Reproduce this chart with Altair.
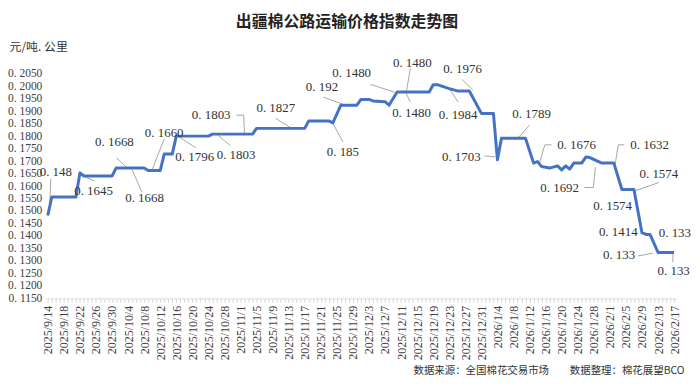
import altair as alt
import pandas as pd

# ---------------- data ----------------
dates = ["2025-09-14", "2025-09-15", "2025-09-21", "2025-09-22", "2025-09-23", "2025-09-30",
         "2025-10-01", "2025-10-08", "2025-10-09", "2025-10-12", "2025-10-13", "2025-10-15",
         "2025-10-16", "2025-10-24", "2025-10-25", "2025-11-04", "2025-11-05", "2025-11-17",
         "2025-11-18", "2025-11-23", "2025-11-24", "2025-11-26", "2025-11-30", "2025-12-01",
         "2025-12-03", "2025-12-04", "2025-12-07", "2025-12-08", "2025-12-10", "2025-12-18",
         "2025-12-19", "2025-12-20", "2025-12-23", "2025-12-25", "2025-12-28", "2025-12-31",
         "2026-01-03", "2026-01-04", "2026-01-05", "2026-01-11", "2026-01-13", "2026-01-14",
         "2026-01-15", "2026-01-17", "2026-01-19", "2026-01-20", "2026-01-21", "2026-01-22",
         "2026-01-23", "2026-01-25", "2026-01-26", "2026-01-27", "2026-01-30", "2026-02-02",
         "2026-02-04", "2026-02-07", "2026-02-09", "2026-02-10", "2026-02-11", "2026-02-13",
         "2026-02-17"]
values = [0.1482, 0.1556, 0.1556, 0.1652, 0.1640, 0.1640,
          0.1672, 0.1672, 0.1662, 0.1662, 0.1728, 0.1728,
          0.1800, 0.1800, 0.1808, 0.1808, 0.1831, 0.1831,
          0.1861, 0.1861, 0.1853, 0.1924, 0.1924, 0.1947,
          0.1947, 0.1941, 0.1938, 0.1924, 0.1977, 0.1977,
          0.2006, 0.2006, 0.1990, 0.1981, 0.1981, 0.1891,
          0.1891, 0.1705, 0.1791, 0.1791, 0.1692, 0.1698,
          0.1678, 0.1672, 0.1681, 0.1665, 0.1681, 0.1668,
          0.1692, 0.1692, 0.1716, 0.1714, 0.1692, 0.1692,
          0.1586, 0.1586, 0.1413, 0.1406, 0.1406, 0.1334,
          0.1334]

# y-axis tick values
y_ticks = [0.1150, 0.1200, 0.1250, 0.1300, 0.1350, 0.1400, 0.1450, 0.1500, 0.1550, 0.1600,
           0.1650, 0.1700, 0.1750, 0.1800, 0.1850, 0.1900, 0.1950, 0.2000, 0.2050]

# data labels (text, day offset from 2025/9/14, value position)
ann_text = ["0. 148", "0. 1645", "0. 1668", "0. 1668", "0. 1660", "0. 1796", "0. 1803",
            "0. 1803", "0. 1827", "0. 192", "0. 185", "0. 1480", "0. 1480", "0. 1480",
            "0. 1976", "0. 1984", "0. 1703", "0. 1789", "0. 1676", "0. 1692", "0. 1632",
            "0. 1574", "0. 1574", "0. 1414", "0. 133", "0. 133", "0. 133"]
ann_day = [2.0, 11.4, 16.6, 24.1, 29.0, 36.6, 46.9,
           40.7, 56.8, 68.3, 73.5, 75.7, 90.8, 90.6,
           103.3, 102.2, 103.0, 120.5, 131.7, 127.5, 149.9,
           152.2, 140.7, 142.1, 156.2, 142.3, 155.9]
ann_value = [0.1657, 0.1582, 0.1777, 0.1554, 0.1812, 0.1717, 0.1725,
             0.1884, 0.1912, 0.1995, 0.1737, 0.2051, 0.2091, 0.1892,
             0.2067, 0.1884, 0.1717, 0.1888, 0.1765, 0.1594, 0.1765,
             0.1649, 0.1518, 0.1414, 0.1410, 0.1323, 0.1259]

# leader lines (segments in day offset / value space)
seg_d1 = [0.74, 8.7, 17.1, 21.0, 29.0, 32.7, 42.3, 47.0, 48.8, 56.7, 68.6, 71.0, 80.4,
          90.3, 88.9, 103.2, 100.0, 108.7, 120.0, 125.5, 123.8, 133.7, 135.9, 143.6, 142.1,
          152.2, 147.0, 155.7]
seg_v1 = [0.1629, 0.1641, 0.1713, 0.1665, 0.1789, 0.1797, 0.1805, 0.1884, 0.1884, 0.1872,
          0.1956, 0.1852, 0.2007, 0.2071, 0.1984, 0.2027, 0.1992, 0.1721, 0.1844, 0.1765,
          0.1765, 0.1594, 0.1594, 0.1765, 0.1765, 0.1614, 0.1320, 0.1327]
seg_d2 = [0.5, 11.6, 20.0, 23.5, 26.0, 36.9, 45.5, 48.8, 49.0, 60.6, 73.5, 73.5, 86.4,
          89.4, 90.3, 105.9, 102.2, 111.4, 117.3, 123.8, 122.5, 135.9, 136.4, 142.1, 141.3,
          145.8, 150.7, 155.7]
seg_v2 = [0.1526, 0.1621, 0.1669, 0.1574, 0.1665, 0.1753, 0.1761, 0.1884, 0.1808, 0.1832,
          0.1928, 0.1777, 0.1976, 0.1984, 0.1936, 0.1984, 0.1936, 0.1717, 0.1796, 0.1765,
          0.1693, 0.1594, 0.1677, 0.1765, 0.1685, 0.1578, 0.1331, 0.1295]

title_text = "出疆棉公路运输价格指数走势图"
unit_text = "元/吨. 公里"
footer_text = "数据来源：全国棉花交易市场　　数据整理：棉花展望BCO"

# ---------------- helpers ----------------
DAY = 86400000
START = int(pd.Timestamp("2025-09-14", tz="UTC").value // 10**6)


def ms(day):
    return START + day * DAY


line_df = pd.DataFrame({
    "t": [int(pd.Timestamp(d, tz="UTC").value // 10**6) for d in dates],
    "v": values,
})
ann_df = pd.DataFrame({"t": [ms(d) for d in ann_day], "v": ann_value, "label": ann_text})
seg_df = pd.DataFrame({"t1": [ms(d) for d in seg_d1], "v1": seg_v1,
                       "t2": [ms(d) for d in seg_d2], "v2": seg_v2})

n_days = 156
tick_vals = [ms(i) for i in range(n_days + 1)]

x_scale = alt.Scale(type="utc", domain=[ms(-0.5), ms(n_days + 0.5)])
y_scale = alt.Scale(domain=[0.115, 0.205], nice=False, zero=False)

W, H = 634, 226
PAD_L, PAD_T, PAD_R, PAD_B = 38, 65, 16, 81

x_axis = alt.Axis(
    values=tick_vals,
    labelExpr=f"(round((datum.value - {START})/{DAY}) % 4 == 0) ? utcFormat(datum.value, '%Y/%-m/%-d') : ''",
    labelAngle=270, labelFont="Liberation Serif", labelFontSize=12, labelColor="#404040",
    labelPadding=3, labelOverlap=False, tickSize=4, tickColor="#d9d9d9",
    domainColor="#d9d9d9", grid=False,
    title=footer_text, titleX=W + 8, titleY=76, titleAlign="right",
    titleBaseline="alphabetic", titleFont="Noto Sans CJK SC", titleFontSize=10.5,
    titleFontWeight="normal", titleColor="#333333",
)
y_axis = alt.Axis(
    values=y_ticks,
    labelExpr="replace(format(datum.value, '.4f'), '.', '. ')",
    domain=False, ticks=False, grid=False,
    labelFont="Liberation Serif", labelFontSize=11.5, labelColor="#404040", labelPadding=4,
    title=unit_text, titleAngle=0, titleX=-37, titleY=-27, titleAlign="left",
    titleBaseline="middle", titleFont="Noto Sans CJK SC", titleFontSize=12,
    titleFontWeight="normal", titleColor="#333333",
)

leaders = alt.Chart(seg_df).mark_rule(color="#a6a6a6", strokeWidth=1).encode(
    x=alt.X("t1:T", scale=x_scale, axis=x_axis),
    x2="t2:T",
    y=alt.Y("v1:Q", scale=y_scale, axis=y_axis),
    y2="v2:Q",
)

line = alt.Chart(line_df).mark_line(color="#4472C4", strokeWidth=3, strokeJoin="round").encode(
    x=alt.X("t:T", scale=x_scale, axis=x_axis),
    y=alt.Y("v:Q", scale=y_scale, axis=y_axis),
)

labels = alt.Chart(ann_df).mark_text(
    font="Liberation Serif", fontSize=13, color="#333333", align="center", baseline="middle"
).encode(
    x=alt.X("t:T", scale=x_scale, axis=x_axis),
    y=alt.Y("v:Q", scale=y_scale, axis=y_axis),
    text="label:N",
)

chart = alt.layer(leaders, line, labels).properties(
    width=W, height=H,
    autosize=alt.AutoSizeParams(type="none"),
    padding={"left": PAD_L, "top": PAD_T, "right": PAD_R, "bottom": PAD_B},
    background="white",
    title=alt.TitleParams(text=title_text, anchor="middle", dx=-14, offset=11,
                          font="Noto Sans CJK SC", fontSize=16, fontWeight="bold",
                          color="#222222"),
).configure_view(stroke=None)

chart.save("out.html", embed_options={"renderer": "svg", "actions": False})
